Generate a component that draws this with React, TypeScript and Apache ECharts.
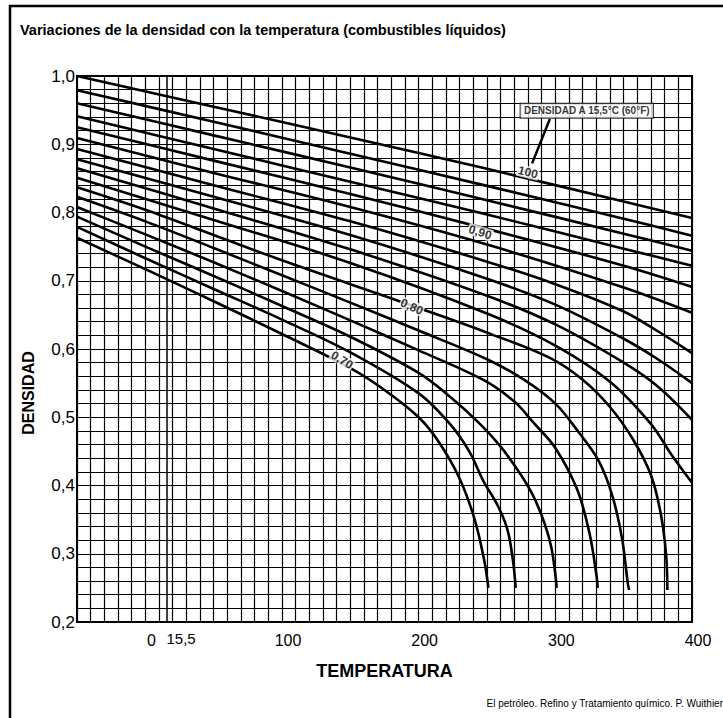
import React, { useEffect, useRef } from 'react';
import * as echarts from 'echarts';

const TITLE = 'Variaciones de la densidad con la temperatura (combustibles líquidos)';
const SOURCE = 'El petróleo. Refino y Tratamiento químico. P. Wuithier';
const X_NAME = 'TEMPERATURA';
const Y_NAME = 'DENSIDAD';
const X_LABELS = [0, 100, 200, 300, 400];
const REF_TEMP = 15.5;
const REF_TEMP_LABEL = '15,5';
const NOTE = 'DENSIDAD A 15,5°C (60°F)';

// density at 15.5 °C of each curve
const CURVE_NAMES = ['1,00', '0,98', '0,96', '0,94', '0,92', '0,90', '0,88', '0,86', '0,84', '0,82', '0,80', '0,78', '0,76', '0,74', '0,72', '0,70'];

// [temperature °C, density]
const curve100 = [[-50, 1.0], [50, 0.955], [150, 0.91], [250, 0.864], [350, 0.816], [400, 0.792]];
const curve098 = [[-50, 0.979], [50, 0.933], [150, 0.886], [250, 0.839], [350, 0.791], [400, 0.766]];
const curve096 = [[-50, 0.96], [50, 0.913], [150, 0.866], [250, 0.818], [350, 0.769], [400, 0.744]];
const curve094 = [[-50, 0.941], [50, 0.893], [150, 0.845], [250, 0.797], [350, 0.747], [400, 0.722]];
const curve092 = [[-50, 0.925], [50, 0.876], [150, 0.827], [250, 0.776], [350, 0.722], [400, 0.691]];
const curve090 = [[-50, 0.909], [50, 0.858], [150, 0.808], [250, 0.753], [350, 0.69], [400, 0.653]];
const curve088 = [[-50, 0.893], [50, 0.84], [150, 0.787], [250, 0.728], [300, 0.695], [350, 0.655], [375, 0.626], [400, 0.594]];
const curve086 = [[-50, 0.878], [50, 0.823], [150, 0.767], [250, 0.703], [300, 0.665], [350, 0.615], [375, 0.585], [400, 0.55]];
const curve084 = [[-50, 0.865], [50, 0.806], [150, 0.746], [250, 0.678], [300, 0.636], [350, 0.58], [375, 0.545], [400, 0.496]];
const curve082 = [[-50, 0.851], [50, 0.789], [150, 0.726], [250, 0.652], [300, 0.605], [340, 0.552], [370, 0.49], [385, 0.445], [400, 0.404]];
const curve080 = [[-50, 0.837], [0, 0.804], [50, 0.767], [100, 0.73], [150, 0.695], [200, 0.66], [250, 0.624], [296, 0.587], [320, 0.555], [340, 0.515], [357, 0.467], [370, 0.415], [377, 0.36], [381, 0.3], [382, 0.247]];
const curve078 = [[-50, 0.823], [0, 0.787], [50, 0.748], [100, 0.708], [150, 0.668], [200, 0.627], [250, 0.585], [277, 0.555], [300, 0.52], [316, 0.481], [332, 0.435], [342, 0.383], [349, 0.32], [353, 0.257], [354, 0.247]];
const curve076 = [[-50, 0.808], [0, 0.768], [50, 0.727], [100, 0.685], [150, 0.642], [200, 0.598], [247, 0.555], [270, 0.523], [284, 0.492], [300, 0.455], [316, 0.394], [325, 0.33], [330, 0.27], [331, 0.25]];
const curve074 = [[-50, 0.794], [0, 0.75], [50, 0.707], [100, 0.663], [150, 0.618], [200, 0.565], [223, 0.53], [245, 0.49], [260, 0.457], [275, 0.415], [284, 0.384], [292, 0.345], [297, 0.31], [300, 0.27], [301, 0.25]];
const curve072 = [[-50, 0.779], [0, 0.733], [50, 0.688], [100, 0.643], [150, 0.595], [200, 0.535], [223, 0.49], [237, 0.45], [247, 0.408], [258, 0.37], [265, 0.335], [269, 0.29], [271, 0.25]];
const curve070 = [[-50, 0.763], [0, 0.717], [50, 0.67], [100, 0.622], [150, 0.572], [175, 0.54], [200, 0.5], [215, 0.463], [230, 0.41], [241, 0.35], [248, 0.29], [251, 0.25]];

const CURVES = [curve100, curve098, curve096, curve094, curve092, curve090, curve088, curve086, curve084, curve082, curve080, curve078, curve076, curve074, curve072, curve070];

// in-chart curve labels: [temperature, density, text, rotation]
const CURVE_LABELS = [
  [280, 0.859, '100', -14],
  [245, 0.771, '0,90', -18],
  [195, 0.662, '0,80', -24],
  [144, 0.584, '0,70', -32],
];
const NOTE_POS = [323, 0.949];
const NOTE_ARROW = [[296, 0.937], [283, 0.872]];

const FONT = '"Liberation Sans", Arial, sans-serif';

export default function App() {
  const ref = useRef<HTMLDivElement>(null);
  useEffect(() => {
    document.body.style.margin = '0';
    const chart = echarts.init(ref.current!, null, { renderer: 'svg' });
    const curveSeries = CURVES.map((c, i) => ({
      type: 'line',
      name: CURVE_NAMES[i],
      data: c,
      symbol: 'none',
      smooth: 0.35,
      silent: true,
      lineStyle: { color: '#000', width: 2.6 },
      z: 3,
    }));
    const plainLabel = { color: '#000', textBorderWidth: 0, textBorderColor: 'transparent', textShadowBlur: 0, fontFamily: FONT };
    const option = {
      animation: false,
      backgroundColor: '#fff',
      textStyle: { fontFamily: FONT },
      grid: { left: 77, top: 76, right: 31, bottom: 96, show: true, borderColor: '#000', borderWidth: 2, backgroundColor: 'transparent' },
      xAxis: {
        type: 'value', min: -50, max: 400, interval: 10,
        name: X_NAME, nameLocation: 'middle', nameGap: 40,
        nameTextStyle: { fontSize: 18, fontWeight: 'bold', color: '#000', fontFamily: FONT },
        axisLine: { show: false }, axisTick: { show: false },
        axisLabel: {
          interval: 0, color: '#000', fontSize: 16, margin: 10, fontFamily: FONT,
          padding: [0, 0, 0, 12],
          formatter: (v: number) => (X_LABELS.includes(Math.round(v)) ? String(Math.round(v)) : ''),
        },
        splitLine: { show: true, lineStyle: { color: '#000', width: 1.2 } },
      },
      yAxis: {
        type: 'value', min: 0.2, max: 1.0, interval: 0.02,
        axisLine: { show: false }, axisTick: { show: false },
        axisLabel: {
          interval: 0, color: '#000', fontSize: 17, margin: 2, fontFamily: FONT,
          formatter: (v: number) => {
            const r = Math.round(v * 10) / 10;
            return Math.abs(v - r) < 1e-6 ? r.toFixed(1).replace('.', ',') : '';
          },
        },
        splitLine: { show: true, lineStyle: { color: '#000', width: 1.2 } },
      },
      graphic: [
        { type: 'rect', shape: { x: 10, y: 6, width: 900, height: 900 }, style: { fill: 'none', stroke: '#000', lineWidth: 2.5 }, silent: true },
        { type: 'text', x: 20, y: 30, style: { text: TITLE, font: `bold 14.5px ${FONT}`, fill: '#000', verticalAlign: 'middle' } },
        { type: 'text', x: 28, y: 393, rotation: Math.PI / 2, style: { text: Y_NAME, font: `bold 16px ${FONT}`, fill: '#000', align: 'center', verticalAlign: 'middle' } },
        { type: 'text', x: 723, y: 703, style: { text: SOURCE, font: `10px ${FONT}`, fill: '#000', align: 'right', verticalAlign: 'middle' } },
      ],
      series: [
        ...curveSeries,
        {
          type: 'line', data: [], symbol: 'none', silent: true,
          markLine: {
            symbol: 'none', silent: true,
            lineStyle: { color: '#000', width: 1.5, type: 'solid' },
            label: { show: true, position: 'start', formatter: REF_TEMP_LABEL, color: '#000', fontSize: 15, align: 'left', distance: 9, fontFamily: FONT },
            data: [{ xAxis: REF_TEMP }],
          },
        },
        {
          type: 'line', data: NOTE_ARROW, symbol: 'none', silent: true,
          lineStyle: { color: '#000', width: 2.5 }, z: 4,
        },
        {
          type: 'scatter', symbol: 'circle', symbolSize: 2, silent: true, z: 5,
          itemStyle: { color: 'rgba(0,0,0,0)' },
          data: [{
            value: NOTE_POS,
            label: { show: true, position: 'inside', formatter: NOTE, ...plainLabel, fontSize: 10, fontWeight: 'bold', backgroundColor: '#fff', padding: [2, 3], borderColor: '#000', borderWidth: 1 },
          }],
        },
        {
          type: 'scatter', symbol: 'circle', symbolSize: 2, silent: true, z: 5,
          itemStyle: { color: 'rgba(0,0,0,0)' },
          data: CURVE_LABELS.map((l) => ({
            value: [l[0], l[1]],
            label: { show: true, position: 'inside', formatter: String(l[2]), rotate: l[3], ...plainLabel, fontSize: 12, fontWeight: 'bold', backgroundColor: '#fff', padding: [0, 1] },
          })),
        },
      ],
    };
    chart.setOption(option as any);
    return () => chart.dispose();
  }, []);
  return <div ref={ref} style={{ width: 723, height: 718 }} />;
}
